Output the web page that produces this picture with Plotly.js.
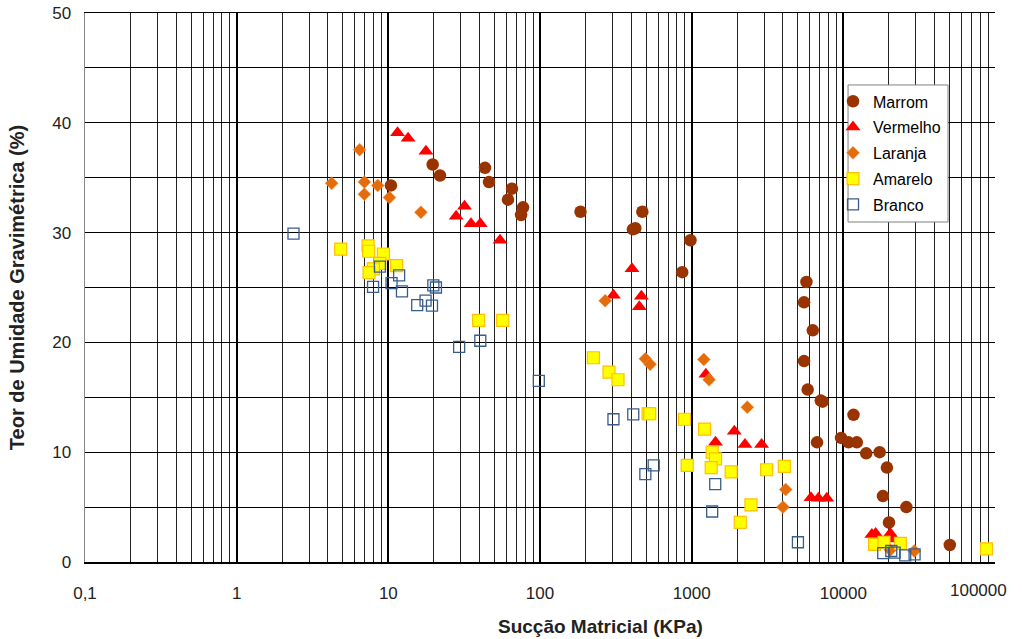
<!DOCTYPE html>
<html>
<head>
<meta charset="utf-8">
<script src="https://cdn.plot.ly/plotly-3.0.1.min.js"></script>
<style>html,body{margin:0;padding:0;background:#fff;}#chart{width:1022px;height:639px;}</style>
</head>
<body>
<div id="chart"></div>
<script>
// Data
const marromX = [10.4, 19.6, 21.9, 43.4, 46.1, 65.4, 61.5, 77.3, 75.0, 185, 473, 410, 425, 982, 866, 5710, 5510, 6290, 5510, 5820, 7100, 7300, 11670, 6710, 9660, 10820, 12270, 14150, 17350, 19380, 18240, 26030, 20000, 50350];
const marromY = [34.3, 36.2, 35.2, 35.9, 34.6, 34.0, 33.0, 32.3, 31.6, 31.9, 31.9, 30.3, 30.4, 29.3, 26.4, 25.5, 23.65, 21.1, 18.3, 15.7, 14.7, 14.6, 13.4, 10.9, 11.3, 10.9, 10.9, 9.9, 10.0, 8.6, 6.0, 5.0, 3.6, 1.55];

const vermelhoX = [11.5, 13.5, 17.7, 31.8, 28.0, 35.1, 40.4, 54.5, 404, 305, 466, 452, 1240, 1436, 1910, 2245, 2890, 6120, 6850, 7780, 15420, 16330, 20400, 21500];
const vermelhoY = [39.1, 38.6, 37.4, 32.4, 31.5, 30.8, 30.8, 29.3, 26.7, 24.3, 24.2, 23.25, 17.1, 10.9, 11.9, 10.7, 10.7, 5.85, 5.8, 5.8, 2.5, 2.6, 2.6, 2.1];

const laranjaX = [6.47, 4.23, 6.95, 8.51, 6.95, 10.17, 16.4, 269, 495, 532, 1202, 1303, 2327, 4168, 4000, 20370, 29370];
const laranjaY = [37.55, 34.5, 34.6, 34.3, 33.5, 33.2, 31.85, 23.8, 18.5, 18.0, 18.45, 16.6, 14.1, 6.6, 5.0, 1.1, 1.0];

const amareloX = [4.85, 7.35, 7.42, 9.28, 11.35, 8.78, 7.97, 7.46, 39.4, 56.8, 225, 285, 327, 516, 529, 896, 1216, 1365, 1436, 934, 1345, 1822, 3121, 2460, 2090, 4083, 16070, 18530, 23770, 87900];
const amareloY = [28.5, 28.8, 28.3, 28.05, 27.0, 27.2, 26.7, 26.35, 22.0, 22.0, 18.6, 17.3, 16.6, 13.5, 13.5, 13.0, 12.1, 10.0, 9.4, 8.8, 8.6, 8.2, 8.4, 5.2, 3.6, 8.7, 1.6, 1.8, 1.7, 1.2];

const brancoX = [2.37, 8.8, 11.78, 10.5, 7.93, 12.3, 19.8, 20.6, 15.5, 17.6, 19.4, 29.3, 40.4, 98.2, 305, 412, 562, 495, 1430, 1365, 5020, 18330, 20700, 21790, 25590, 29500];
const brancoY = [29.9, 26.9, 26.1, 25.4, 25.05, 24.65, 25.2, 25.0, 23.4, 23.8, 23.35, 19.6, 20.15, 16.5, 13.0, 13.45, 8.8, 8.0, 7.1, 4.6, 1.8, 0.8, 1.0, 0.85, 0.6, 0.7];

const xTickVals = [0.1, 1, 10, 100, 1000, 10000, 100000];
const xTickText = ['0,1', '1', '10', '100', '1000', '10000', '100000'];
const yTickVals = [0, 10, 20, 30, 40, 50];

// minor log grid positions (2..9 within each decade)
const minorX = [];
for (let d = -1; d <= 4; d++) { for (let k = 2; k <= 9; k++) { minorX.push(k * Math.pow(10, d)); } }

const FONT = 'Liberation Sans, Arial, sans-serif';

// the last tick label is drawn as an annotation (nudged left like the reference)
const lastIdx = xTickVals.length - 1;
const axisTickText = xTickText.map((t, i) => i === lastIdx ? '' : t);

const traces = [
  {name: 'Marrom', x: marromX, y: marromY, type: 'scatter', mode: 'markers', legendgroup: 'a',
   marker: {symbol: 'circle', size: 12.5, color: '#993300', line: {width: 0}}},
  {name: 'Vermelho', x: vermelhoX, y: vermelhoY, type: 'scatter', mode: 'markers', legendgroup: 'b',
   marker: {symbol: 'triangle-up', size: 13, color: '#FF0000', line: {width: 0}}},
  {name: 'Laranja', x: laranjaX, y: laranjaY, type: 'scatter', mode: 'markers', legendgroup: 'c',
   marker: {symbol: 'diamond', size: 10, color: '#E46C0A', line: {width: 0.5, color: '#F79646'}}},
  {name: 'Amarelo', x: amareloX, y: amareloY, type: 'scatter', mode: 'markers', legendgroup: 'd',
   marker: {symbol: 'square', size: 12, color: '#FFFF00', line: {width: 1.2, color: '#FFC000'}}},
  {name: 'Branco', x: brancoX, y: brancoY, type: 'scatter', mode: 'markers', legendgroup: 'e',
   marker: {symbol: 'square-open', size: 11, color: '#385D8A', line: {width: 1.3, color: '#385D8A'}}}
];

const layout = {
  width: 1022, height: 639,
  margin: {l: 85, r: 27, t: 13, b: 77},
  paper_bgcolor: '#ffffff', plot_bgcolor: '#ffffff',
  font: {family: FONT, size: 16, color: '#000'},
  showlegend: true,
  legend: {
    x: 0.822, y: 0.870, xanchor: 'left', yanchor: 'top',
    bgcolor: 'rgba(0,0,0,0)', borderwidth: 0,
    font: {family: FONT, size: 16, color: '#000'},
    tracegroupgap: 2, itemwidth: 30
  },
  shapes: [
    {type: 'rect', xref: 'paper', yref: 'paper', x0: 0.8385, x1: 0.9484, y0: 0.6193, y1: 0.8689,
     fillcolor: '#ffffff', line: {color: '#808080', width: 1}, layer: 'above'}
  ],
  annotations: [
    {text: '<b>Sucção Matricial (KPa)</b>', xref: 'paper', yref: 'paper', x: 0.566, y: -0.1166,
     xanchor: 'center', yanchor: 'middle', showarrow: false,
     font: {family: FONT, size: 19, color: '#222'}},
    {text: xTickText[lastIdx], xref: 'x', yref: 'paper', x: Math.log10(xTickVals[lastIdx]), y: -0.0528,
     xanchor: 'center', yanchor: 'middle', xshift: -17, showarrow: false,
     font: {family: FONT, size: 17, color: '#222'}}
  ],
  xaxis: {
    type: 'log', range: [-1, 5],
    tickmode: 'array', tickvals: xTickVals, ticktext: axisTickText,
    showgrid: true, gridcolor: '#000', gridwidth: 2,
    minor: {tickmode: 'array', tickvals: minorX, showgrid: true, gridcolor: '#222', gridwidth: 1, ticks: ''},
    showline: true, linecolor: '#000', linewidth: 1.5, mirror: true,
    ticks: '', ticklabelstandoff: 15,
    tickfont: {family: FONT, size: 17, color: '#222'},
    zeroline: false
  },
  yaxis: {
    range: [0, 50],
    tickmode: 'array', tickvals: yTickVals,
    showgrid: true, gridcolor: '#000', gridwidth: 1,
    minor: {dtick: 5, showgrid: true, gridcolor: '#000', gridwidth: 1, ticks: ''},
    showline: true, linecolor: '#888', linewidth: 1.5,
    ticks: '', ticklabelstandoff: 9,
    tickfont: {family: FONT, size: 17, color: '#222'},
    zeroline: false,
    title: {text: 'Teor de Umidade Gravimétrica (%)', font: {family: FONT, size: 20, color: '#222', weight: 'bold'}, standoff: 22}
  }
};

Plotly.newPlot('chart', traces, layout, {displayModeBar: false, staticPlot: true});
</script>
</body>
</html>
